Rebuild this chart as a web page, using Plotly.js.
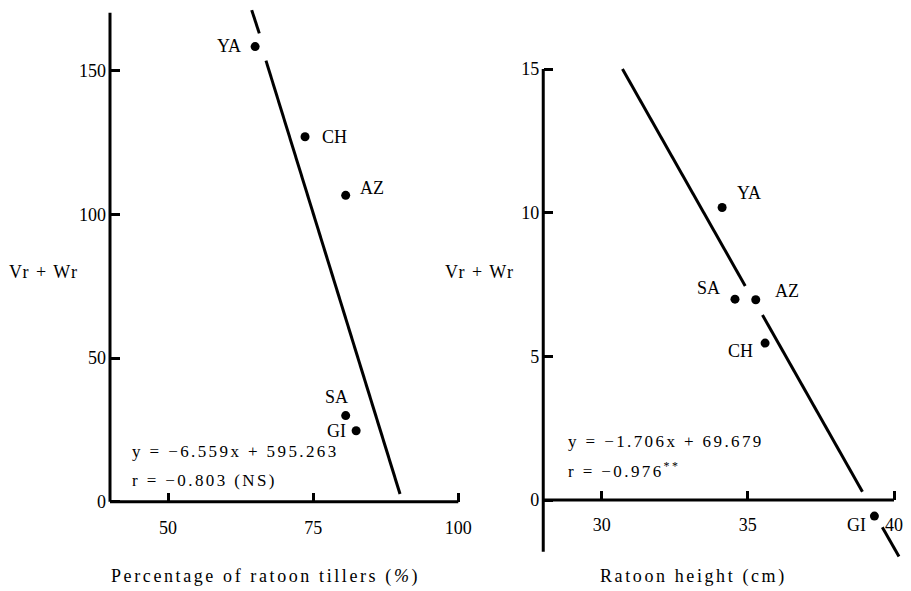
<!DOCTYPE html>
<html>
<head>
<meta charset="utf-8">
<script src="https://cdn.plot.ly/plotly-3.0.1.min.js"></script>
<style>html,body{margin:0;padding:0;background:#fff;}#chart{width:911px;height:591px;}</style>
</head>
<body>
<div id="chart"></div>
<script>
// ---------- data ----------
const cultivars = ['YA', 'CH', 'AZ', 'SA', 'GI'];
// Left panel: percentage of ratoon tillers vs Vr+Wr
const tillerPct = [65.0, 73.6, 80.6, 80.6, 82.4];
const vrwrLeft = [158.5, 127.1, 106.7, 30.0, 24.7];
// Right panel: ratoon height (cm) vs Vr+Wr
const ratoonHeight = [34.12, 35.59, 35.27, 34.56, 39.33];
const vrwrRight = [10.18, 5.46, 6.97, 6.99, -0.56];
// Regression lines (read end points, broken around labels)
const fitLeftX = [64.41, 65.72, null, 66.87, 89.96];
const fitLeftY = [171.2, 163.1, null, 153.6, 2.7];
const fitRightX = [30.71, 34.91, null, 35.50, 38.92, null, 39.60, 40.17];
const fitRightY = [15.0, 7.45, null, 6.44, 0.29, null, -0.95, -1.97];
// Tick values
const leftXTicks = [50, 75, 100];
const leftYTicks = [0, 50, 100, 150];
const rightXTicks = [30, 35, 40];
const rightYTicks = [0, 5, 10, 15];
// Equations
const eqLeft = ['y = −6.559x + 595.263', 'r = −0.803 (NS)'];
const eqRight = ['y = −1.706x + 69.679', 'r = −0.976<sup>**</sup>'];

// ---------- layout helpers ----------
const W = 911, H = 591;
const FONT = 'Liberation Serif';
function xDomain(v0, p0, v1, p1, range) {
  const k = (p1 - p0) / (v1 - v0);
  return [(p0 + (range[0] - v0) * k) / W, (p0 + (range[1] - v0) * k) / W];
}
function yDomain(v0, p0, v1, p1, range) {
  const k = (p1 - p0) / (v1 - v0);
  return [(H - (p0 + (range[0] - v0) * k)) / H, (H - (p0 + (range[1] - v0) * k)) / H];
}
function xPos(v0, p0, v1, p1, v) { return (p0 + (v - v0) * (p1 - p0) / (v1 - v0)) / W; }
function yPos(v0, p0, v1, p1, v) { return (H - (p0 + (v - v0) * (p1 - p0) / (v1 - v0))) / H; }

const lxr = [39.5, 100.5], lyr = [-1.5, 173];
const rxr = [27.8, 40.5], ryr = [-2.3, 15.5];
const lxd = xDomain(40, 110, 100, 458.3, lxr);
const lyd = yDomain(0, 501.7, 150, 71, lyr);
const rxd = xDomain(30, 601.7, 40, 894, rxr);
const ryd = yDomain(0, 500, 15, 69, ryr);

const tickFont = {family: FONT, size: 18, color: '#000'};
function ls(t, px) { return '<span style="letter-spacing:' + px + 'px">' + t + '</span>'; }

const axBase = {
  showgrid: false, zeroline: false, showline: false,
  ticks: 'inside', ticklen: 9, tickwidth: 3, tickcolor: '#000',
  tickfont: tickFont, tickmode: 'array', fixedrange: true
};

const layout = {
  width: W, height: H,
  margin: {l: 0, r: 0, t: 0, b: 0, pad: 0},
  paper_bgcolor: '#fff', plot_bgcolor: 'rgba(0,0,0,0)',
  showlegend: false,
  font: {family: FONT, color: '#000'},
  xaxis: Object.assign({}, axBase, {domain: lxd, range: lxr, tickvals: leftXTicks,
    anchor: 'free', position: yPos(0, 501.7, 150, 71, 0), ticklabelstandoff: 13}),
  yaxis: Object.assign({}, axBase, {domain: lyd, range: lyr, tickvals: leftYTicks,
    anchor: 'free', position: xPos(40, 110, 100, 458.3, 40), ticklabelstandoff: 4}),
  xaxis2: Object.assign({}, axBase, {domain: rxd, range: rxr, tickvals: rightXTicks,
    anchor: 'free', position: yPos(0, 500, 15, 69, 0), ticklabelstandoff: 12}),
  yaxis2: Object.assign({}, axBase, {domain: ryd, range: ryr, tickvals: rightYTicks,
    anchor: 'free', position: xPos(30, 601.7, 40, 894, 28), ticklabelstandoff: 4}),
  shapes: [
    {type: 'line', xref: 'x', yref: 'y', x0: 40, x1: 100, y0: 0, y1: 0, line: {color: '#000', width: 3}},
    {type: 'line', xref: 'x', yref: 'y', x0: 40, x1: 40, y0: 0, y1: 170.3, line: {color: '#000', width: 3}},
    {type: 'line', xref: 'x2', yref: 'y2', x0: 28, x1: 40, y0: 0, y1: 0, line: {color: '#000', width: 3}},
    {type: 'line', xref: 'x2', yref: 'y2', x0: 28, x1: 28, y0: -1.8, y1: 15, line: {color: '#000', width: 3}}
  ],
  annotations: []
};

// point labels: [xanchor, xshift, yshift]
const leftLabelPos = [['right', -12, 1], ['left', 15, 0], ['left', 12, 7], ['center', -9, 19], ['right', -8, 0]];
const rightLabelPos = [['left', 13, 14], ['right', -10, -8], ['left', 17, 9], ['right', -13, 11], ['right', -6, -9]];
cultivars.forEach((c, i) => {
  layout.annotations.push({xref: 'x', yref: 'y', x: tillerPct[i], y: vrwrLeft[i], text: c,
    showarrow: false, xanchor: leftLabelPos[i][0], yanchor: 'middle',
    xshift: leftLabelPos[i][1], yshift: leftLabelPos[i][2], font: {family: FONT, size: 18, color: '#000'}});
  layout.annotations.push({xref: 'x2', yref: 'y2', x: ratoonHeight[i], y: vrwrRight[i], text: c,
    showarrow: false, xanchor: rightLabelPos[i][0], yanchor: 'middle',
    xshift: rightLabelPos[i][1], yshift: rightLabelPos[i][2], font: {family: FONT, size: 18, color: '#000'}});
});

// equations
const eqFont = {family: FONT, size: 17, color: '#000'};
layout.annotations.push({xref: 'paper', yref: 'paper', x: 130 / W, y: (H - 451.7) / H, text: ls(eqLeft[0], 2.4),
  showarrow: false, xanchor: 'left', yanchor: 'middle', font: eqFont});
layout.annotations.push({xref: 'paper', yref: 'paper', x: 130 / W, y: (H - 480) / H, text: ls(eqLeft[1], 2.4),
  showarrow: false, xanchor: 'left', yanchor: 'middle', font: eqFont});
layout.annotations.push({xref: 'paper', yref: 'paper', x: 566 / W, y: (H - 441.7) / H, text: ls(eqRight[0], 2.4),
  showarrow: false, xanchor: 'left', yanchor: 'middle', font: eqFont});
layout.annotations.push({xref: 'paper', yref: 'paper', x: 566 / W, y: (H - 470) / H, text: ls(eqRight[1], 2.4),
  showarrow: false, xanchor: 'left', yanchor: 'middle', font: eqFont});

// axis titles
const titleFont = {family: FONT, size: 18, color: '#000'};
layout.annotations.push({xref: 'paper', yref: 'paper', x: 44 / W, y: (H - 271.7) / H, text: ls('Vr + Wr', 1.5),
  showarrow: false, xanchor: 'center', yanchor: 'middle', font: titleFont});
layout.annotations.push({xref: 'paper', yref: 'paper', x: 480 / W, y: (H - 271.7) / H, text: ls('Vr + Wr', 1.5),
  showarrow: false, xanchor: 'center', yanchor: 'middle', font: titleFont});
layout.annotations.push({xref: 'paper', yref: 'paper', x: 265 / W, y: (H - 576) / H,
  text: ls('Percentage of ratoon tillers (<i>%</i>)', 2.6),
  showarrow: false, xanchor: 'center', yanchor: 'middle', font: titleFont});
layout.annotations.push({xref: 'paper', yref: 'paper', x: 693 / W, y: (H - 576) / H,
  text: ls('Ratoon height (cm)', 2.6),
  showarrow: false, xanchor: 'center', yanchor: 'middle', font: titleFont});

const markerStyle = {color: '#000', size: 9};
const data = [
  {type: 'scatter', mode: 'lines', x: fitLeftX, y: fitLeftY, xaxis: 'x', yaxis: 'y',
    line: {color: '#000', width: 3}, connectgaps: false, hoverinfo: 'skip'},
  {type: 'scatter', mode: 'markers', x: tillerPct, y: vrwrLeft, xaxis: 'x', yaxis: 'y',
    marker: markerStyle, text: cultivars},
  {type: 'scatter', mode: 'lines', x: fitRightX, y: fitRightY, xaxis: 'x2', yaxis: 'y2',
    line: {color: '#000', width: 3}, connectgaps: false, hoverinfo: 'skip'},
  {type: 'scatter', mode: 'markers', x: ratoonHeight, y: vrwrRight, xaxis: 'x2', yaxis: 'y2',
    marker: markerStyle, text: cultivars}
];

Plotly.newPlot('chart', data, layout, {displayModeBar: false, staticPlot: true});
</script>
</body>
</html>
